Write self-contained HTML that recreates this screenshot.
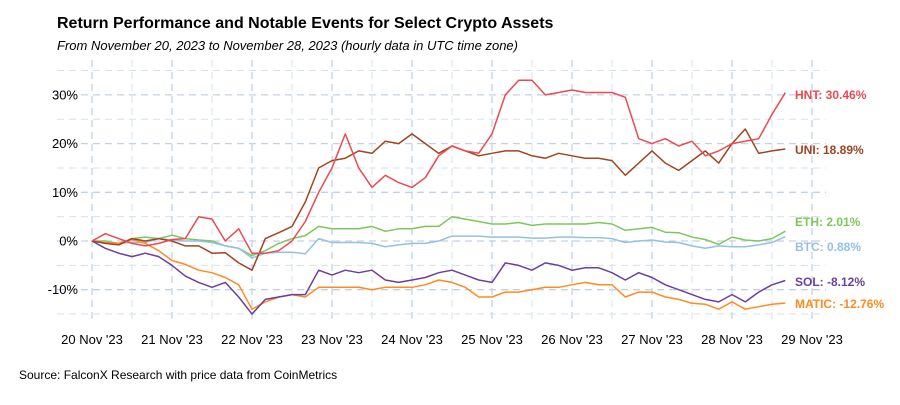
<!DOCTYPE html>
<html><head><meta charset="utf-8">
<style>
body{margin:0;background:#fff;font-family:"Liberation Sans",sans-serif;}
svg text{font-family:"Liberation Sans",sans-serif;}
</style></head>
<body>
<svg id="chart" width="900" height="400">
<text x="57" y="28" font-size="16" font-weight="bold" fill="#000">Return Performance and Notable Events for Select Crypto Assets</text>
<text x="57" y="50" font-size="13" font-style="italic" fill="#000">From November 20, 2023 to November 28, 2023 (hourly data in UTC time zone)</text>
<text x="19" y="379" font-size="12" fill="#000">Source: FalconX Research with price data from CoinMetrics</text>
<g id="grid"></g>
<g id="axes"></g>
<g id="series"></g>
<g id="labels"></g>
</svg>
<script>
const dayLabels = ["20 Nov '23","21 Nov '23","22 Nov '23","23 Nov '23","24 Nov '23","25 Nov '23","26 Nov '23","27 Nov '23","28 Nov '23","29 Nov '23"];
const yTicks = [-10,0,10,20,30];
const stepHours = 4;
const seriesNames = ["HNT","UNI","ETH","BTC","SOL","MATIC"];
const hnt = [0,1.5,0.5,-0.5,-1,-0.5,0.3,0.5,5,4.5,0,2.5,-2.5,-2.5,-2,0,4,10,15,22,15,11,13.5,12,11,13,17.5,19.5,18.5,18,22,30,33,33,30,30.5,31,30.5,30.5,30.5,29.5,21,20,21,19.5,20.5,17.5,18.5,20,20.5,21,26,30.46];
const uni = [0,-0.5,-0.8,0.5,0,0.5,0,-1,-1,-2.5,-2.4,-4.5,-6,0.5,1.7,3,8,15,16.5,17,18.5,18,20.5,20,22,20,18,19.5,18.5,17.5,18,18.5,18.5,17.5,17,18,17.5,17,17,16.5,13.5,16,18.5,16,14.5,16.5,18.5,16,20,23,18,18.5,18.89];
const eth = [0,0,-0.5,0.5,0.8,0.5,1.2,0.5,0.2,0,-1,-1.5,-3,-2,-0.5,0.5,1.1,3,2.5,2.5,2.5,3,2,2.5,2.5,3,3,5,4.5,4,3.5,3.5,3.8,3.2,3.5,3.5,3.5,3.5,3.8,3.5,2.2,2.5,2.8,1.8,1.7,0.8,0.3,-0.7,0.8,0.2,0,0.5,2.01];
const btc = [0,-0.3,-0.5,-0.3,-0.3,0.5,0.2,0,0,-0.3,-1,-1.5,-3.5,-2.5,-2.3,-2.3,-2.6,0.5,-0.3,-0.3,-0.3,-0.5,-1.2,-0.8,-0.5,-0.5,0,1,1,1,0.8,0.8,0.8,0.6,0.6,0.8,0.8,0.7,0.7,0.5,-0.3,0,0.2,-0.2,-0.3,-1,-1.5,-1,-1.2,-1.2,-0.8,-0.3,0.88];
const sol = [0,-1.5,-2.5,-3.2,-2.5,-3.2,-5,-7.2,-8.5,-9.5,-8.5,-11.5,-15,-12,-11.5,-11,-11,-6,-7,-6,-6.5,-6,-8,-8.5,-8,-7.5,-6.5,-6,-7,-8,-8.5,-4.5,-5,-6,-4.5,-5,-6,-5.5,-5.5,-6.5,-8,-6.5,-7.5,-9,-10,-11,-12,-12.5,-11,-12.5,-10.5,-9,-8.12];
const matic = [0,-0.3,-0.5,0.3,-0.5,-2,-4,-4.8,-6,-6.5,-7.5,-9,-14,-12.5,-11.5,-11,-11.5,-9.5,-9.5,-9.5,-9.5,-10,-9.5,-9.5,-9.5,-9,-8,-8.5,-9.5,-11.5,-11.5,-10.5,-10.5,-10,-9.5,-9.5,-9,-8.5,-9,-9,-11.5,-10.5,-10.5,-11.5,-12,-12.8,-13,-14,-12.5,-14,-13.5,-13,-12.76];

const NS="http://www.w3.org/2000/svg";
const xOf = h => 92 + h/24*80;
const yOf = v => 241 - v*4.87;
function mk(tag, attrs, parent){const e=document.createElementNS(NS,tag);for(const k in attrs)e.setAttribute(k,attrs[k]);parent.appendChild(e);return e;}
const grid=document.getElementById('grid'), axes=document.getElementById('axes'), ser=document.getElementById('series'), lab=document.getElementById('labels');
for(let v=-15;v<=35;v+=5){
  const l=mk('line',{x1:57,x2:826,y1:yOf(v),y2:yOf(v),stroke:v%10===0?'#c3d1e6':'#d6e0ee','stroke-width':v%10===0?1.3:1,'stroke-dasharray':'7,5'},grid);
  
  
}
for(let h=0;h<=216;h+=12){
  const l=mk('line',{x1:xOf(h),x2:xOf(h),y1:60,y2:322,stroke:h%24===0?'#c3d1e6':'#d6e0ee','stroke-width':h%24===0?1.3:1,'stroke-dasharray':'7,5'},grid);
  
  
}
yTicks.forEach(v=>{
  const t=mk('text',{x:78,y:yOf(v)+4.5,'text-anchor':'end','font-size':13,fill:'#000'},axes);
  t.textContent=v+'%';
  
  
});
dayLabels.forEach((d,i)=>{
  const t=mk('text',{x:xOf(i*24),y:344,'text-anchor':'middle','font-size':13,fill:'#000'},axes);
  t.textContent=d;
  
  
});
const data=[hnt,uni,eth,btc,sol,matic];
const colors=['#ea4a52','#a0451f','#7cc75c','#93c1e2','#6b3f9c','#ff8b1e'];
const order=[2,3,5,4,1,0];
order.forEach(i=>{
  const pts=data[i].map((v,j)=>xOf(j*stepHours).toFixed(1)+','+yOf(v).toFixed(1)).join(' ');
  const p=mk('polyline',{points:pts,fill:'none',stroke:colors[i],'stroke-width':1.5,'stroke-linejoin':'round'},ser);
  
  
});
const labelY=[95,150,222,247,282,304];
data.forEach((s,i)=>{
  const last=s[s.length-1];
  const t=mk('text',{x:795,y:labelY[i]+4,'font-size':12,'font-weight':'bold',fill:colors[i]},lab);
  t.textContent=seriesNames[i]+': '+last.toFixed(2)+'%';
  
  
});
</script>
</body></html>
